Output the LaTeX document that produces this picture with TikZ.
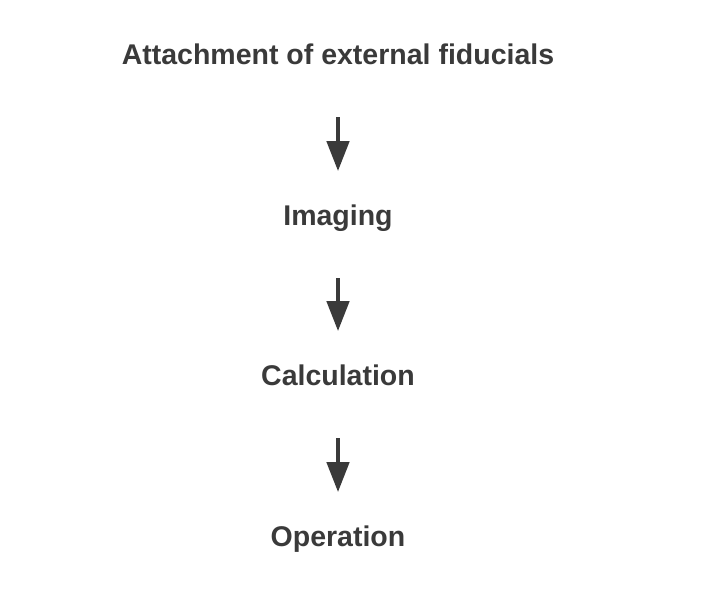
\documentclass[tikz,border=0pt]{standalone}
\usepackage{fontspec}
\setmainfont{Liberation Sans}
\usepackage{xcolor}
\usetikzlibrary{arrows.meta, positioning}
\definecolor{inkgray}{RGB}{58, 58, 58}

\begin{document}
\begin{tikzpicture}[
    x=1pt, y=-1pt,
    stage/.style={inner sep=0pt, anchor=base, text=inkgray, font=\fontsize{28.5}{34}\selectfont\bfseries},
    flow/.style={-{Triangle[length=30pt, width=22pt]}, line width=4.5pt, draw=inkgray, shorten <=53pt, shorten >=33pt}
]
    \useasboundingbox (0,0) rectangle (722,605);

    % steps of the procedure
    \node[stage] (attach) at (338, 64) {Attachment of external fiducials};
    \node[stage] (imaging) at (338, 225) {Imaging};
    \node[stage] (calc) at (338, 385) {Calculation};
    \node[stage] (oper) at (338, 546) {Operation};

    % arrows between steps
    \draw[flow] (attach.base) -- (imaging.north);
    \draw[flow] (imaging.base) -- (calc.north);
    \draw[flow] (calc.base) -- (oper.north);

\end{tikzpicture}
\end{document}
